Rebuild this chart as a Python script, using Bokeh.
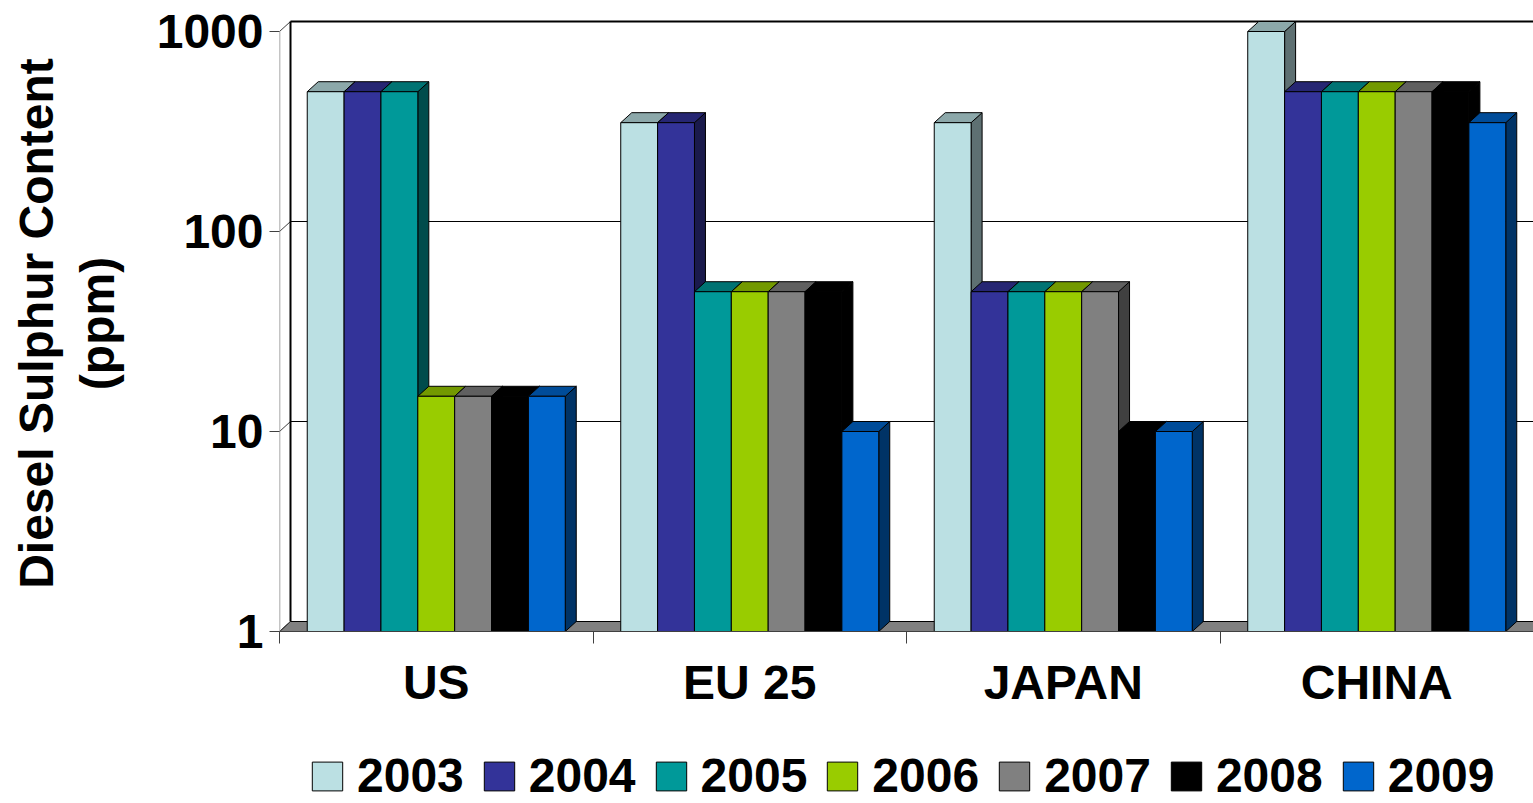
from bokeh.embed import file_html
from bokeh.layouts import column
from bokeh.models import (ColumnDataSource, FixedTicker, Legend, LegendItem,
                          PrintfTickFormatter, Range1d)
from bokeh.plotting import figure
from bokeh.resources import INLINE

# ---- data -------------------------------------------------------------
CATEGORIES = ["US", "EU 25", "JAPAN", "CHINA"]
YEARS = ["2003", "2004", "2005", "2006", "2007", "2008", "2009"]

US = [500, 500, 500, 15, 15, 15, 15]
EU25 = [350, 350, 50, 50, 50, 50, 10]
JAPAN = [350, 50, 50, 50, 50, 10, 10]
CHINA = [1000, 500, 500, 500, 500, 500, 350]
VALUES_BY_CATEGORY = [US, EU25, JAPAN, CHINA]

Y_TICKS = [1, 10, 100, 1000]

YEAR_COLORS = ["#BBE0E3", "#333399", "#009999", "#99CC00",
               "#808080", "#000000", "#0066CC"]

Y_TITLE = "Diesel Sulphur Content\n(ppm)"

# ---- layout / style ----------------------------------------------------
WIDTH = 1533
CHART_H, LEGEND_H = 715, 88
BORDER_LEFT, BORDER_TOP, BORDER_BOTTOM = 279, 15, 84
PX_PER_DECADE = 200.0
DEPTH_PX, RISE_PX = 11.0, 10.0       # oblique offset of the 3-D depth
GROUP_FRAC = 0.823                   # share of a category taken by its bars
FONT = "Liberation Sans"
FONT_SIZE = "48px"

frame_w = WIDTH - BORDER_LEFT
frame_h = CHART_H - BORDER_TOP - BORDER_BOTTOM
n_cat = len(CATEGORIES)
x_end = float(n_cat)
y_end = 10 ** (frame_h / PX_PER_DECADE)

DX = DEPTH_PX / (frame_w / x_end)              # depth offset in x data units
F = 10 ** (RISE_PX / PX_PER_DECADE)            # depth offset as log factor
y_top = max(Y_TICKS)
y_bot = min(Y_TICKS)


def shade(hex_color, k):
    r, g, b = (int(hex_color[i:i + 2], 16) for i in (1, 3, 5))
    return "#%02x%02x%02x" % (round(r * k), round(g * k), round(b * k))


p = figure(width=WIDTH, height=CHART_H, output_backend="svg",
           toolbar_location=None, title=None, y_axis_type="log",
           x_range=Range1d(0, x_end), y_range=Range1d(y_bot, y_end),
           min_border_left=BORDER_LEFT, min_border_right=0,
           min_border_top=BORDER_TOP, min_border_bottom=BORDER_BOTTOM)
p.outline_line_color = None
p.grid.visible = False
p.background_fill_color = "white"
p.border_fill_color = "white"

# ---- floor, walls and gridlines -----------------------------------------
p.patch([0, x_end, x_end + DX, DX], [y_bot, y_bot, y_bot * F, y_bot * F],
        fill_color="#808080", line_color="#000000", line_width=1)

back = [t for t in Y_TICKS if t != y_top]
p.segment(x0=[DX] * len(back), y0=[t * F for t in back],
          x1=[x_end] * len(back), y1=[t * F for t in back],
          line_color="#000000", line_width=1)
p.segment(x0=[0] * len(Y_TICKS), y0=Y_TICKS,
          x1=[DX] * len(Y_TICKS), y1=[t * F for t in Y_TICKS],
          line_color="#404040", line_width=1)
# front edge of the side wall
p.segment(x0=[0], y0=[y_bot], x1=[0], y1=[y_top],
          line_color="#8a8a8a", line_width=1.5)
# back wall left edge and top edge
p.segment(x0=[DX, DX], y0=[y_bot * F, y_top * F],
          x1=[DX, x_end], y1=[y_top * F, y_top * F],
          line_color="#000000", line_width=2)

# ---- 3-D columns ---------------------------------------------------------
bar_w = GROUP_FRAC / len(YEARS)
xs, ys, fills, front_index = [], [], [], {}
for c, vals in enumerate(VALUES_BY_CATEGORY):
    start = c + (1 - GROUP_FRAC) / 2
    for j, v in enumerate(vals):
        x0 = start + j * bar_w
        x1 = x0 + bar_w
        col = YEAR_COLORS[j]
        # right side face
        xs.append([x1, x1, x1 + DX, x1 + DX])
        ys.append([y_bot, v, v * F, y_bot * F])
        fills.append(shade(col, 0.5))
        # top face
        xs.append([x0, x1, x1 + DX, x0 + DX])
        ys.append([v, v, v * F, v * F])
        fills.append(shade(col, 0.75))
        # front face
        xs.append([x0, x1, x1, x0])
        ys.append([y_bot, y_bot, v, v])
        fills.append(col)
        front_index.setdefault(j, len(xs) - 1)

src = ColumnDataSource(dict(xs=xs, ys=ys, fill=fills))
p.patches("xs", "ys", source=src, fill_color="fill",
          line_color="#000000", line_width=1)

# ---- axes ---------------------------------------------------------------
yax = p.yaxis[0]
yax.ticker = FixedTicker(ticks=Y_TICKS, minor_ticks=[])
yax.formatter = PrintfTickFormatter(format="%d")
yax.axis_line_color = None
yax.major_tick_in = 0
yax.major_tick_out = 10
yax.major_tick_line_color = "#404040"
yax.minor_tick_in = 0
yax.minor_tick_out = 0
yax.major_label_standoff = 6
yax.major_label_text_font = FONT
yax.major_label_text_font_style = "bold"
yax.major_label_text_font_size = FONT_SIZE
yax.major_label_text_color = "#000000"
yax.axis_label = Y_TITLE
yax.axis_label_standoff = 30
yax.axis_label_text_font = FONT
yax.axis_label_text_font_style = "bold"
yax.axis_label_text_font_size = FONT_SIZE
yax.axis_label_text_color = "#000000"
yax.axis_label_text_line_height = 1.15

xax = p.xaxis[0]
centers = [i + 0.5 for i in range(n_cat)]
xax.ticker = FixedTicker(ticks=centers,
                         minor_ticks=[float(i) for i in range(n_cat + 1)])
xax.major_label_overrides = {cx: name for cx, name in zip(centers, CATEGORIES)}
xax.axis_line_color = "#404040"
xax.major_tick_in = 0
xax.major_tick_out = 0
xax.minor_tick_in = 0
xax.minor_tick_out = 12
xax.minor_tick_line_color = "#404040"
xax.major_label_standoff = 12
xax.major_label_text_font = FONT
xax.major_label_text_font_style = "bold"
xax.major_label_text_font_size = FONT_SIZE
xax.major_label_text_color = "#000000"

# ---- legend strip under the chart -----------------------------------------
key = figure(width=WIDTH, height=LEGEND_H, output_backend="svg",
             toolbar_location=None, title=None,
             x_axis_location=None, y_axis_location=None,
             x_range=Range1d(-20, -10), y_range=Range1d(-20, -10),
             min_border=0)
key.outline_line_color = None
key.grid.visible = False
key.background_fill_color = "white"
key.border_fill_color = "white"
swatches = key.patches("xs", "ys", source=src, fill_color="fill",
                       line_color="#000000", line_width=1)

items = [LegendItem(label=yr, renderers=[swatches], index=front_index[j])
         for j, yr in enumerate(YEARS)]
# the column aligns this strip's frame with the chart frame above
legend = Legend(items=items, orientation="horizontal", location=(29, 0),
                glyph_width=38, glyph_height=36, label_standoff=11,
                spacing=16, padding=0, margin=0, border_line_color=None,
                background_fill_alpha=0, label_text_font=FONT,
                label_text_font_style="bold", label_text_font_size=FONT_SIZE,
                label_text_color="#000000")
key.add_layout(legend, "center")

page = column(p, key, spacing=0)
open("out.html", "w").write(file_html(page, INLINE))
